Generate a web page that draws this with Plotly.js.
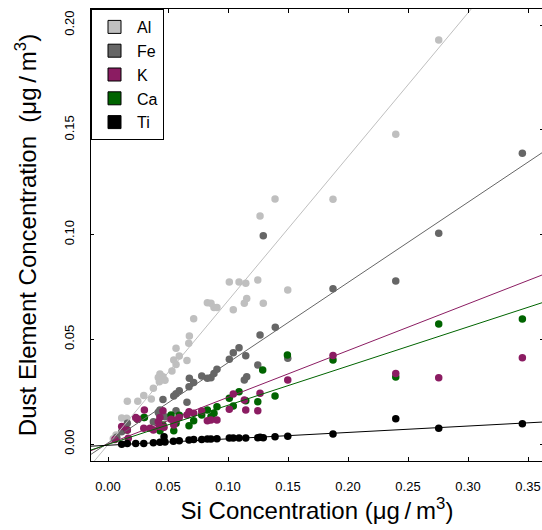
<!DOCTYPE html>
<html>
<head>
<meta charset="utf-8">
<script src="https://cdn.plot.ly/plotly-3.0.1.min.js"></script>
<style>
html,body{margin:0;padding:0;overflow:hidden;background:#fff;width:542px;height:530px;}
#chart{width:560px;height:530px;}
</style>
</head>
<body>
<div id="chart"></div>
<script>
// Element names and colours
var elements = ["Al", "Fe", "K", "Ca", "Ti"];
var colors = ["#bfbfbf", "#666666", "#8b1c62", "#006400", "#000000"];

// Si concentration (x) and element concentration (y)
var alSi = [0.1392,0.1267,0.1011,0.1092,0.1148,0.1248,0.1498,0.0858,0.0828,0.0883,0.0908,0.1156,0.1136,0.1044,0.1294,0.0714,0.0678,0.0673,0.0567,0.0594,0.0548,0.0567,0.0658,0.0533,0.0433,0.0419,0.0458,0.0428,0.0475,0.0378,0.0298,0.0248,0.0361,0.0161,0.0114,0.0156,0.0231,0.0067,0.0044,0.1875,0.2398,0.2756];
var alVal = [0.1169,0.1088,0.0773,0.0773,0.0767,0.0783,0.0735,0.0672,0.0674,0.0652,0.0652,0.0695,0.0672,0.0641,0.0672,0.0598,0.0515,0.0481,0.0457,0.0420,0.0401,0.0380,0.0399,0.0348,0.0334,0.0318,0.0321,0.0297,0.0304,0.0266,0.0232,0.0204,0.0215,0.0204,0.0124,0.0123,0.0124,0.0043,0.0025,0.1168,0.1478,0.1928];

var feSi = [0.1294,0.1394,0.1267,0.1044,0.1092,0.1011,0.1148,0.1248,0.1498,0.0858,0.0908,0.0883,0.0828,0.0781,0.1156,0.1136,0.0714,0.0675,0.0678,0.0594,0.0567,0.0548,0.0658,0.0567,0.0458,0.0433,0.0419,0.0428,0.0475,0.0378,0.0298,0.0248,0.0161,0.0114,0.0073,0.1875,0.2398,0.2756,0.3453];
var feVal = [0.0994,0.0557,0.0520,0.0436,0.0460,0.0404,0.0421,0.0377,0.0409,0.0316,0.0357,0.0337,0.0314,0.0325,0.0321,0.0305,0.0294,0.0273,0.0314,0.0254,0.0240,0.0229,0.0199,0.0159,0.0213,0.0162,0.0151,0.0142,0.0130,0.0106,0.0127,0.0118,0.0099,0.0059,0.0032,0.0741,0.0778,0.1006,0.1388];

var kSi = [0.1498,0.1267,0.1248,0.1148,0.1044,0.1136,0.1011,0.0908,0.0858,0.0828,0.0781,0.0714,0.0675,0.0658,0.0594,0.0567,0.0548,0.0525,0.0458,0.0433,0.0419,0.0428,0.0378,0.0298,0.0303,0.0248,0.0231,0.0161,0.0114,0.0169,0.0058,0.0467,0.0350,0.1875,0.2398,0.2756,0.3453];
var kVal = [0.0305,0.0242,0.0159,0.0162,0.0239,0.0210,0.0166,0.0115,0.0115,0.0111,0.0158,0.0147,0.0154,0.0138,0.0127,0.0115,0.0091,0.0118,0.0159,0.0127,0.0106,0.0083,0.0067,0.0075,0.0162,0.0118,0.0126,0.0067,0.0083,0.0027,0.0022,0.0080,0.0075,0.0423,0.0336,0.0316,0.0412];

var caSi = [0.1495,0.1289,0.1392,0.1248,0.1148,0.1092,0.1011,0.1044,0.0908,0.0883,0.0828,0.0858,0.0781,0.0714,0.0675,0.0594,0.0567,0.0548,0.0525,0.0458,0.0433,0.0303,0.0248,0.0161,0.1875,0.2398,0.2756,0.3453];
var caVal = [0.0425,0.0353,0.0229,0.0202,0.0207,0.0250,0.0218,0.0181,0.0178,0.0147,0.0162,0.0130,0.0138,0.0111,0.0087,0.0137,0.0099,0.0063,0.0138,0.0091,0.0063,0.0127,0.0118,0.0067,0.0401,0.0320,0.0573,0.0597];

var tiSi = [0.0114,0.0161,0.0231,0.0298,0.0378,0.0433,0.0475,0.0545,0.0594,0.0675,0.0714,0.0781,0.0828,0.0858,0.0908,0.1011,0.1044,0.1092,0.1148,0.1248,0.1267,0.1294,0.1392,0.1498,0.0467,0.1875,0.2398,0.2756,0.3453];
var tiVal = [-0.0001,0.0003,0.0003,0.0003,0.0006,0.0008,0.0010,0.0013,0.0016,0.0019,0.0021,0.0022,0.0024,0.0024,0.0025,0.0029,0.0029,0.0029,0.0029,0.0030,0.0032,0.0030,0.0035,0.0037,0.0035,0.0048,0.0121,0.0075,0.0097];

// Fitted regression lines (slope, intercept)
var fitSlopes = [0.687, 0.383, 0.223, 0.187, 0.0306];
var fitIntercepts = [-0.0003, 0.0005, 0.0000, -0.0002, -0.0006];
var fitXEnds = [-0.05, 0.45];

// Tick labels
var xTicks = [0, 0.05, 0.10, 0.15, 0.20, 0.25, 0.30, 0.35];
var xTickText = ["0.00","0.05","0.10","0.15","0.20","0.25","0.30","0.35"];
var yTicks = [0, 0.05, 0.10, 0.15, 0.20];
var yTickText = ["0.00","0.05","0.10","0.15","0.20"];

var seriesX = {Al: alSi, Fe: feSi, K: kSi, Ca: caSi, Ti: tiSi};
var seriesY = {Al: alVal, Fe: feVal, K: kVal, Ca: caVal, Ti: tiVal};
var drawOrder = ["Al", "Fe", "Ca", "K", "Ti"];

var FONT = "Liberation Sans, Arial, Helvetica, sans-serif";
var traces = [];

// points
drawOrder.forEach(function (el) {
  var i = elements.indexOf(el);
  traces.push({
    type: "scatter", mode: "markers", x: seriesX[el], y: seriesY[el],
    marker: {color: colors[i], size: 7.5, line: {width: 0}},
    showlegend: false, hoverinfo: "skip", cliponaxis: true
  });
});

// regression lines
elements.forEach(function (el, i) {
  traces.push({
    type: "scatter", mode: "lines",
    x: fitXEnds,
    y: fitXEnds.map(function (x) { return fitSlopes[i] * x + fitIntercepts[i]; }),
    line: {color: colors[i], width: 1},
    showlegend: false, hoverinfo: "skip"
  });
});

// legend entries
elements.forEach(function (el, i) {
  traces.push({
    type: "scatter", mode: "markers", x: [null], y: [null], name: el,
    marker: {color: colors[i], symbol: "square", size: 13, line: {color: "#000", width: 1}},
    showlegend: true
  });
});

var layout = {
  width: 560, height: 530,
  margin: {l: 91, r: 17, t: 9, b: 69},
  paper_bgcolor: "#fff", plot_bgcolor: "#fff",
  font: {family: FONT, color: "#000", size: 13},
  showlegend: true,
  legend: {
    x: 0, y: 1, xanchor: "left", yanchor: "top",
    bgcolor: "#fff", bordercolor: "#000", borderwidth: 1,
    font: {family: FONT, size: 16, color: "#000"},
    itemwidth: 35, tracegroupgap: 0
  },
  xaxis: {
    range: [-0.01417, 0.3625], autorange: false,
    tickmode: "array", tickvals: xTicks, ticktext: xTickText,
    ticks: "inside", ticklen: 4, tickwidth: 1, tickcolor: "#000",
    showline: true, linecolor: "#000", linewidth: 1, mirror: "ticks",
    showgrid: false, zeroline: false,
    tickfont: {family: FONT, size: 13, color: "#000"},
    ticklabelstandoff: 13,
    title: {text: "Si Concentration (\u03bcg\u2009/\u2009m<sup>3</sup>)", font: {family: FONT, size: 24, color: "#000"}, standoff: 1}
  },
  yaxis: {
    range: [-0.00811, 0.20764], autorange: false,
    tickmode: "array", tickvals: yTicks, ticktext: yTickText,
    ticks: "inside", ticklen: 3, tickwidth: 1, tickcolor: "#000",
    showline: true, linecolor: "#000", linewidth: 1, mirror: "ticks",
    showgrid: false, zeroline: false, tickangle: -90,
    tickfont: {family: FONT, size: 13, color: "#000"},
    ticklabelstandoff: 11,
    title: {text: "Dust Element Concentration  (\u03bcg\u2009/\u2009m<sup>3</sup>)", font: {family: FONT, size: 24, color: "#000"}, standoff: 18}
  }
};

Plotly.newPlot("chart", traces, layout, {staticPlot: true, displayModeBar: false});
</script>
</body>
</html>
